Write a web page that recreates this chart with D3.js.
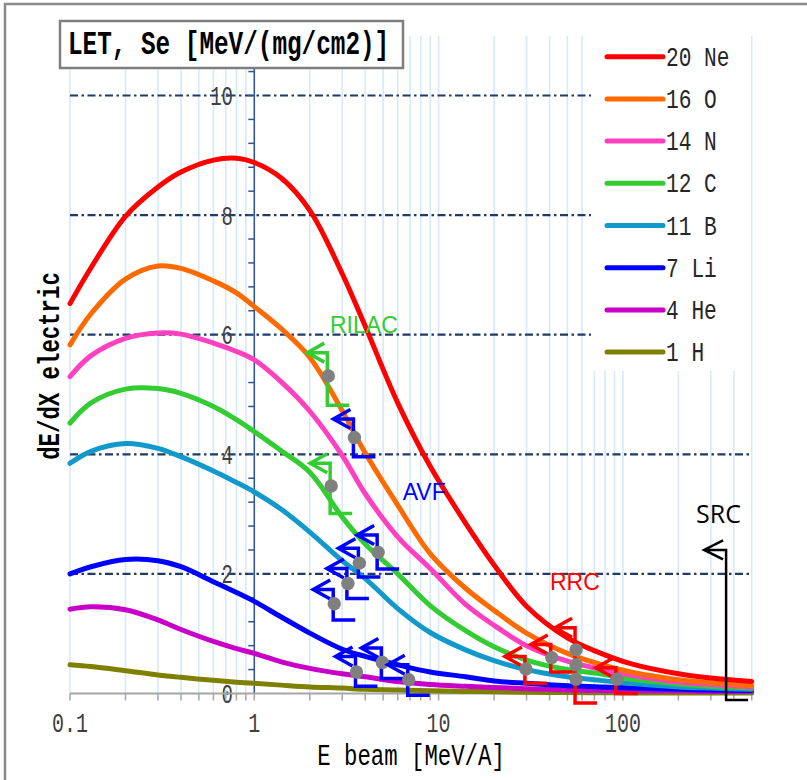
<!DOCTYPE html>
<html>
<head>
<meta charset="utf-8">
<script src="https://d3js.org/d3.v7.min.js"></script>
<style>
  html, body { margin: 0; padding: 0; background: #fff; }
  svg { display: block; }
</style>
</head>
<body>
<div id="chart"></div>
<script>
// Electronic stopping power (LET) of light ions vs beam energy per nucleon
const energies = [0.1, 0.13, 0.2, 0.3, 0.4, 0.6, 0.8, 1, 1.4, 2, 3, 4, 6, 9, 14, 20, 30, 50, 75, 110, 200, 300, 500];

const ions = ["20 Ne", "16 O", "14 N", "12 C", "11 B", "7 Li", "4 He", "1 H"];
const ionColors = ["#ff0000", "#ff6a00", "#ff40c0", "#33cc33", "#1199cc", "#0000ff", "#c800c8", "#808000"];

const letNe = [6.52, 7.12, 7.98, 8.47, 8.72, 8.92, 8.95, 8.88, 8.62, 8.08, 7.02, 6.14, 4.86, 3.80, 2.85, 2.15, 1.46, 0.93, 0.68, 0.50, 0.33, 0.26, 0.20];
const letO  = [5.83, 6.35, 6.93, 7.15, 7.11, 6.90, 6.70, 6.47, 6.10, 5.62, 4.73, 4.02, 3.15, 2.34, 1.76, 1.39, 1.01, 0.67, 0.49, 0.36, 0.23, 0.18, 0.13];
const letN  = [5.30, 5.65, 5.94, 6.03, 6.01, 5.86, 5.72, 5.58, 5.21, 4.72, 3.98, 3.34, 2.62, 2.09, 1.49, 1.14, 0.80, 0.54, 0.41, 0.31, 0.19, 0.15, 0.11];
const letC  = [4.52, 4.86, 5.09, 5.10, 5.02, 4.80, 4.58, 4.38, 4.06, 3.70, 2.95, 2.50, 2.00, 1.47, 1.05, 0.78, 0.56, 0.40, 0.33, 0.24, 0.16, 0.12, 0.09];
const letB  = [3.85, 4.05, 4.18, 4.10, 3.96, 3.72, 3.53, 3.37, 3.08, 2.70, 2.22, 1.92, 1.42, 1.02, 0.73, 0.55, 0.40, 0.28, 0.22, 0.17, 0.11, 0.09, 0.07];
const letLi = [2.00, 2.12, 2.24, 2.22, 2.12, 1.87, 1.69, 1.54, 1.28, 1.01, 0.74, 0.62, 0.48, 0.36, 0.28, 0.21, 0.17, 0.13, 0.11, 0.09, 0.07, 0.06, 0.05];
const letHe = [1.41, 1.45, 1.40, 1.23, 1.07, 0.87, 0.75, 0.67, 0.53, 0.42, 0.33, 0.28, 0.20, 0.15, 0.12, 0.10, 0.08, 0.06, 0.05, 0.045, 0.04, 0.035, 0.035];
const letH  = [0.48, 0.45, 0.38, 0.31, 0.27, 0.22, 0.19, 0.17, 0.14, 0.11, 0.09, 0.07, 0.06, 0.045, 0.035, 0.03, 0.02, 0.015, 0.012, 0.01, 0.01, 0.01, 0.01];

const seriesValues = [letNe, letO, letN, letC, letB, letLi, letHe, letH];

const xTickValues = [0.1, 1, 10, 100];
const xTickLabels = ["0.1", "1", "10", "100"];
const yTickValues = [0, 2, 4, 6, 8, 10];
const yTickLabels = ["0", "2", "4", "6", "8", "10"];

// Accelerator energy ranges: energy of the upper limit, LET span of the bracket, reachable points
const rilacMarks = [
  { e: 2.49, top: 5.70, bottom: 4.82, dots: [5.31] },
  { e: 2.58, top: 3.85, bottom: 3.01, dots: [3.47] }
];
const avfMarks = [
  { e: 3.45, top: 4.59, bottom: 3.96, dots: [4.28] },
  { e: 4.64, top: 2.65, bottom: 2.08, dots: [2.36] },
  { e: 3.67, top: 2.43, bottom: 1.95, dots: [2.18] },
  { e: 3.18, top: 2.09, bottom: 1.59, dots: [1.84] },
  { e: 2.68, top: 1.74, bottom: 1.23, dots: [1.50] },
  { e: 3.54, top: 0.62, bottom: 0.12, dots: [0.36] },
  { e: 4.89, top: 0.76, bottom: 0.25, dots: [0.52] },
  { e: 6.80, top: 0.48, bottom: -0.03, dots: [0.23] }
];
const rrcMarks = [
  { e: 29.4, top: 0.62, bottom: 0.17, dots: [0.41] },
  { e: 40.6, top: 0.82, bottom: 0.36, dots: [0.60] },
  { e: 55.0, top: 1.10, bottom: -0.16, dots: [0.73, 0.48, 0.24] },
  { e: 91.6, top: 0.43, bottom: 0.00, dots: [0.24] }
];
const srcMarks = [
  { e: 363, top: 2.40, bottom: -0.11, dots: [] }
];

const accelerators = [
  { name: "RILAC", color: "#33cc33", marks: rilacMarks, lx: 330, ly: 333 },
  { name: "AVF", color: "#0000ff", marks: avfMarks, lx: 402.7, ly: 500 },
  { name: "RRC", color: "#ff0000", marks: rrcMarks, lx: 550, ly: 590 },
  { name: "SRC", color: "#000000", marks: srcMarks, lx: 696, ly: 522.7 }
];

const W = 807, H = 780;
const MONO = "'Liberation Mono', 'DejaVu Sans Mono', monospace";

const svg = d3.select("#chart").append("svg")
  .attr("width", W).attr("height", H)
  .attr("viewBox", `0 0 ${W} ${H}`);

const x = d3.scaleLog().domain([0.1, 500]).range([70, 70 + 184.3 * Math.log10(5000)]);
const y = d3.scaleLinear().domain([0, 11]).range([693.5, 693.5 - 11 * 59.8]);

// outer frame
svg.append("rect")
  .attr("x", 5).attr("y", 4).attr("width", 900).attr("height", 900)
  .attr("fill", "#fff").attr("stroke", "#8a8a8a").attr("stroke-width", 2.5);

// vertical log grid lines
const minorX = [];
for (let k = -1; k <= 2; k++) {
  for (let m = 1; m <= 9; m++) {
    const v = m * Math.pow(10, k);
    if (v >= 0.1 - 1e-9 && v <= 500 + 1e-9) minorX.push(v);
  }
}
svg.append("g").selectAll("line").data(minorX).join("line")
  .attr("x1", d => x(d)).attr("x2", d => x(d))
  .attr("y1", y(11)).attr("y2", y(0))
  .attr("stroke", "#d6eafb").attr("stroke-width", 1.6);

// horizontal dash-dot grid lines
svg.append("g").selectAll("line").data([2, 4, 6, 8, 10]).join("line")
  .attr("x1", x(0.1)).attr("x2", x(500))
  .attr("y1", d => y(d)).attr("y2", d => y(d))
  .attr("stroke", "#1f3b66").attr("stroke-width", 2.2)
  .attr("stroke-dasharray", "8,3.5,2.5,3.5");

// legend background hides the grid behind it
svg.append("rect")
  .attr("x", 591).attr("y", 34).attr("width", 159).attr("height", 337)
  .attr("fill", "#fff");

// y axis (crossing at 1 MeV/A)
const yAxisG = svg.append("g");
yAxisG.append("line")
  .attr("x1", x(1)).attr("x2", x(1))
  .attr("y1", y(11)).attr("y2", y(0))
  .attr("stroke", "#2f5597").attr("stroke-width", 1.5);
yAxisG.selectAll("line.tick").data(d3.range(0.4, 10.9, 0.4)).join("line")
  .attr("class", "tick")
  .attr("x1", x(1) - 6).attr("x2", x(1))
  .attr("y1", d => y(d)).attr("y2", d => y(d))
  .attr("stroke", "#2f5597").attr("stroke-width", 1.5);

// title box
svg.append("rect")
  .attr("x", 60).attr("y", 21).attr("width", 343).attr("height", 47)
  .attr("fill", "#fff").attr("stroke", "#7f7f7f").attr("stroke-width", 2.5);

function monoText(g, str, px, py, size, charW, opts = {}) {
  return g.append("text")
    .attr("x", px).attr("y", py)
    .attr("font-family", MONO)
    .attr("font-size", size)
    .attr("font-weight", opts.bold ? "bold" : "normal")
    .attr("fill", opts.fill || "#000")
    .attr("text-anchor", opts.anchor || "start")
    .attr("textLength", str.length * charW)
    .attr("lengthAdjust", "spacingAndGlyphs")
    .text(str);
}

monoText(svg, "LET, Se [MeV/(mg/cm2)]", 68, 54.3, 33, 14.6, { bold: true });

// y tick labels
yTickValues.forEach((v, i) => {
  monoText(svg, yTickLabels[i], 233, y(v) + 9.5, 27.5, 11.4, { anchor: "end", fill: "#404040" });
});

// x axis
const xAxisG = svg.append("g");
xAxisG.append("line")
  .attr("x1", x(0.1)).attr("x2", x(500))
  .attr("y1", y(0)).attr("y2", y(0))
  .attr("stroke", "#a6a6a6").attr("stroke-width", 2);
xAxisG.selectAll("line.tick").data(minorX).join("line")
  .attr("class", "tick")
  .attr("x1", d => x(d)).attr("x2", d => x(d))
  .attr("y1", y(0)).attr("y2", y(0) + 7)
  .attr("stroke", "#a6a6a6").attr("stroke-width", 1.5);
xTickValues.forEach((v, i) => {
  monoText(svg, xTickLabels[i], x(v), 731.7, 27.5, 12, { anchor: "middle", fill: "#404040" });
});

// axis titles
monoText(svg, "E beam [MeV/A]", 411, 765, 29, 13.4, { anchor: "middle" });
const yt = monoText(svg, "dE/dX electric", 0, 0, 30, 13.4, { anchor: "middle", bold: true });
yt.attr("transform", "translate(59,366) rotate(-90)");

// smooth curves, lightest ion first so heavier ions sit on top
const line = d3.line()
  .x(d => x(d[0])).y(d => y(d[1]))
  .curve(d3.curveCatmullRom.alpha(0.5));

const curveG = svg.append("g");
for (let i = ions.length - 1; i >= 0; i--) {
  const pts = energies.map((e, j) => [e, seriesValues[i][j]]);
  curveG.append("path")
    .attr("d", line(pts))
    .attr("fill", "none")
    .attr("stroke", ionColors[i])
    .attr("stroke-width", 5)
    .attr("stroke-linejoin", "round")
    .attr("stroke-linecap", "round");
}

// accelerator range markers
const markG = svg.append("g");
accelerators.forEach(acc => {
  const sw = acc.name === "SRC" ? 2.5 : 3.5;
  const tipLen = acc.name === "SRC" ? 22 : 20;
  acc.marks.forEach(m => {
    const lx = x(m.e), ty = y(m.top), by = y(m.bottom);
    const path = [
      `M${lx - 3},${ty - 9.5} L${lx - tipLen},${ty} L${lx - 3},${ty + 9.5}`,
      `M${lx - tipLen},${ty} L${lx},${ty} L${lx},${by} L${lx + 22},${by}`
    ].join(" ");
    markG.append("path")
      .attr("d", path)
      .attr("fill", "none")
      .attr("stroke", acc.color)
      .attr("stroke-width", sw)
      .attr("stroke-linejoin", "miter");
    m.dots.forEach(v => {
      markG.append("circle")
        .attr("cx", lx + 1).attr("cy", y(v)).attr("r", 6.7)
        .attr("fill", "#808080");
    });
  });
  svg.append("text")
    .attr("x", acc.lx).attr("y", acc.ly)
    .attr("font-family", acc.name === "SRC" ? "'Open Sans', sans-serif" : "'Liberation Sans', Arial, sans-serif")
    .attr("font-size", acc.name === "SRC" ? 25 : 23)
    .attr("fill", acc.color)
    .text(acc.name);
});

// legend
const legendG = svg.append("g");
ions.forEach((name, i) => {
  const ry = 56.7 + i * 42.2;
  legendG.append("line")
    .attr("x1", 607).attr("x2", 663)
    .attr("y1", ry).attr("y2", ry)
    .attr("stroke", ionColors[i]).attr("stroke-width", 5)
    .attr("stroke-linecap", "round");
  monoText(legendG, name, 666, ry + 9, 27.5, 12.7, { fill: "#262626" });
});
</script>
</body>
</html>
